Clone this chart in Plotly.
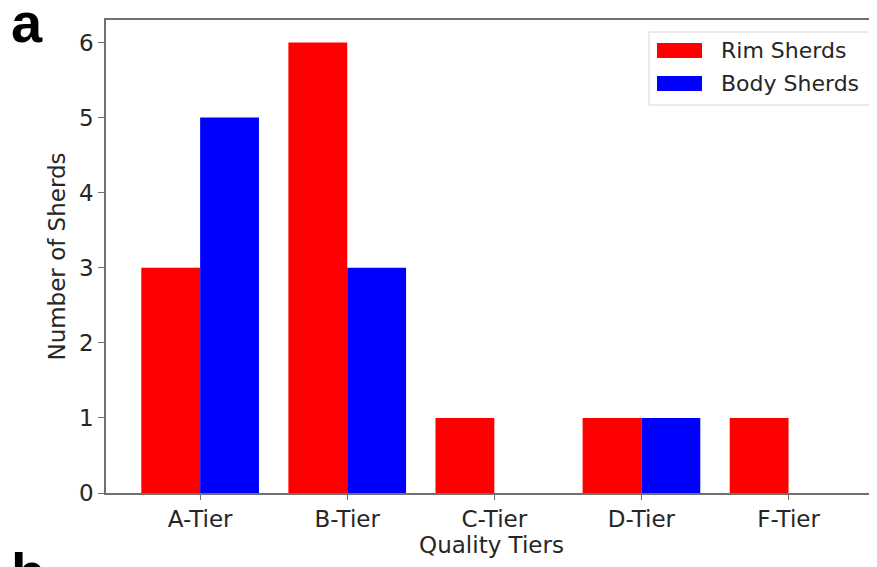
import plotly.graph_objects as go

tiers = ["A-Tier", "B-Tier", "C-Tier", "D-Tier", "F-Tier"]
rim_sherds = [3, 6, 1, 1, 1]
body_sherds = [5, 3, 0, 1, 0]
y_ticks = [0, 1, 2, 3, 4, 5, 6]

positions = list(range(len(tiers)))
FONT = "DejaVu Sans"
TXT = "#262626"
OFF = 8  # browser body margin
W, H = 877 - OFF, 567 - OFF
L, R, T, B = 106 - OFF, 0, 20 - OFF, 567 - 493
ppu = 147.1
x_lo = -0.64
x_hi = x_lo + (W - L - R) / ppu
FS = 23

fig = go.Figure()
fig.add_trace(go.Bar(x=positions, y=rim_sherds, name="Rim Sherds",
                     marker=dict(color="#ff0000", line=dict(width=0)), showlegend=False))
fig.add_trace(go.Bar(x=positions, y=body_sherds, name="Body Sherds",
                     marker=dict(color="#0000ff", line=dict(width=0)), showlegend=False))

fig.update_layout(
    width=W, height=H,
    margin=dict(l=L, r=R, t=T, b=B),
    paper_bgcolor="white", plot_bgcolor="white",
    barmode="group", bargap=0.2, bargroupgap=0,
    font=dict(family=FONT, size=FS, color=TXT),
    xaxis=dict(range=[x_lo, x_hi], tickvals=positions, ticktext=tiers,
               showgrid=False, zeroline=False, showline=True, linecolor="#707070",
               linewidth=1.5, mirror=True, ticks="outside", ticklen=5, tickcolor="#707070",
               tickfont=dict(size=FS, color=TXT),
               title=dict(text="Quality Tiers", font=dict(size=FS, color=TXT), standoff=2)),
    yaxis=dict(range=[0, 6.3], tickvals=y_ticks, showgrid=False, zeroline=False,
               showline=True, linecolor="#707070", linewidth=1.5, mirror=False,
               ticks="outside", ticklen=6, tickcolor="#707070",
               tickfont=dict(size=FS, color=TXT),
               title=dict(text="Number of Sherds", font=dict(size=FS, color=TXT), standoff=7)),
)

# helpers: screenshot pixel -> paper coords
def px_x(p):
    return (p - OFF - L) / (W - L - R)

def px_y(p):
    return 1 - (p - OFF - T) / (H - T - B)

# manual legend (wide swatches like matplotlib)
fig.add_shape(type="rect", xref="paper", yref="paper",
              x0=px_x(649), x1=px_x(871), y0=px_y(105), y1=px_y(32),
              line=dict(color="#d6d6d6", width=1), fillcolor="rgba(255,255,255,0.8)")
for (yc, col, label) in [(50.5, "#ff0000", "Rim Sherds"), (83.5, "#0000ff", "Body Sherds")]:
    fig.add_shape(type="rect", xref="paper", yref="paper",
                  x0=px_x(657), x1=px_x(702), y0=px_y(yc + 7.5), y1=px_y(yc - 7.5),
                  line=dict(width=0), fillcolor=col)
    fig.add_annotation(xref="paper", yref="paper", x=px_x(719), y=px_y(yc),
                       text=label, showarrow=False, xanchor="left", yanchor="middle",
                       font=dict(size=22, color=TXT, family=FONT))

# panel labels
fig.add_annotation(xref="paper", yref="paper", x=px_x(9), y=px_y(22),
                   text="<b>a</b>", showarrow=False, xanchor="left", yanchor="middle",
                   font=dict(size=56, color="black", family="Liberation Sans"))
fig.add_annotation(xref="paper", yref="paper", x=px_x(9), y=px_y(572),
                   text="<b>b</b>", showarrow=False, xanchor="left", yanchor="middle",
                   font=dict(size=56, color="black", family="Liberation Sans"))

fig.write_html("out.html")
